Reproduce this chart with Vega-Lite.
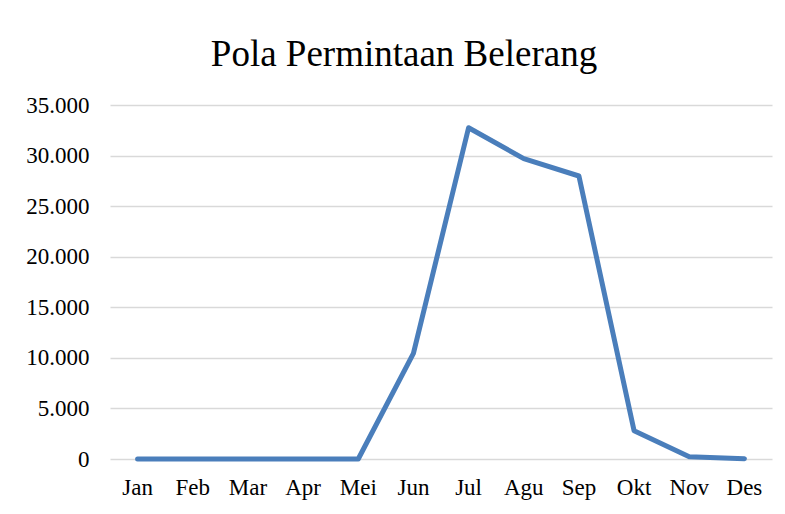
{
  "$schema": "https://vega.github.io/schema/vega-lite/v6.json",
  "autosize": {"type": "none"},
  "padding": {"left": 110, "top": 105, "right": 13, "bottom": 55},
  "width": 662,
  "height": 354,
  "background": "white",
  "title": {
    "text": "Pola Permintaan Belerang",
    "font": "Liberation Serif",
    "fontSize": 37,
    "fontWeight": "normal",
    "color": "#000000",
    "anchor": "middle",
    "frame": "group",
    "baseline": "alphabetic",
    "offset": -9,
    "dx": -37
  },
  "data": {
    "values": [
      {"bulan": "Jan", "permintaan": 0},
      {"bulan": "Feb", "permintaan": 0},
      {"bulan": "Mar", "permintaan": 0},
      {"bulan": "Apr", "permintaan": 0},
      {"bulan": "Mei", "permintaan": 0},
      {"bulan": "Jun", "permintaan": 10450},
      {"bulan": "Jul", "permintaan": 32750},
      {"bulan": "Agu", "permintaan": 29700},
      {"bulan": "Sep", "permintaan": 27980},
      {"bulan": "Okt", "permintaan": 2800},
      {"bulan": "Nov", "permintaan": 230},
      {"bulan": "Des", "permintaan": 30}
    ]
  },
  "mark": {
    "type": "line",
    "color": "#4a7ebb",
    "strokeWidth": 5,
    "strokeCap": "round",
    "strokeJoin": "round"
  },
  "encoding": {
    "x": {
      "field": "bulan",
      "type": "nominal",
      "sort": null,
      "scale": {"type": "band", "paddingInner": 0, "paddingOuter": 0},
      "axis": {
        "title": null,
        "labelAngle": 0,
        "labelFont": "Liberation Serif",
        "labelFontSize": 23,
        "labelColor": "#000000",
        "labelPadding": 17,
        "ticks": false,
        "domain": false,
        "grid": false
      }
    },
    "y": {
      "field": "permintaan",
      "type": "quantitative",
      "scale": {"domain": [0, 35000], "nice": false},
      "axis": {
        "title": null,
        "values": [0, 5000, 10000, 15000, 20000, 25000, 30000, 35000],
        "format": ",.0f",
        "labelExpr": "replace(datum.label, ',', '.')",
        "labelFont": "Liberation Serif",
        "labelFontSize": 23,
        "labelColor": "#000000",
        "labelPadding": 21,
        "ticks": false,
        "domain": false,
        "grid": true,
        "gridColor": "#d9d9d9",
        "gridWidth": 1.5
      }
    }
  },
  "config": {
    "view": {"stroke": null}
  }
}
